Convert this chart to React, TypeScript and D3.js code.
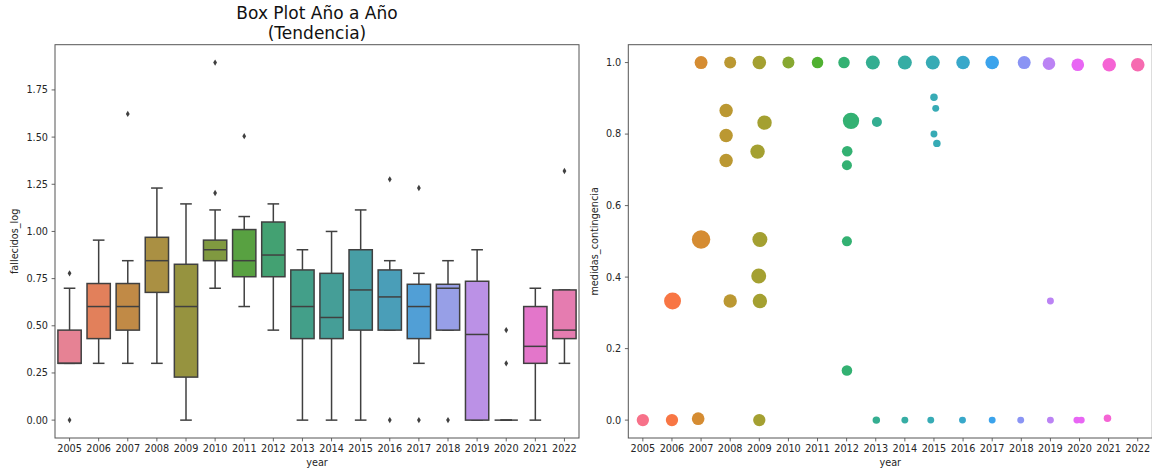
import React from 'react';
import * as d3 from 'd3';

// ---------- data ----------
const years = ['2005','2006','2007','2008','2009','2010','2011','2012','2013','2014','2015','2016','2017','2018','2019','2020','2021','2022'];

// box plot summaries of fallecidos_log per year
const boxQ1 =     [0.301, 0.432, 0.477, 0.677, 0.228, 0.845, 0.760, 0.760, 0.432, 0.432, 0.477, 0.477, 0.432, 0.477, 0.000, 0.000, 0.301, 0.432];
const boxMedian = [0.301, 0.602, 0.602, 0.845, 0.602, 0.903, 0.845, 0.875, 0.602, 0.544, 0.690, 0.653, 0.602, 0.699, 0.454, 0.000, 0.391, 0.477];
const boxQ3 =     [0.477, 0.724, 0.724, 0.969, 0.826, 0.954, 1.010, 1.050, 0.796, 0.778, 0.903, 0.796, 0.720, 0.720, 0.736, 0.000, 0.602, 0.690];
const whiskLow =  [0.301, 0.301, 0.301, 0.301, 0.000, 0.699, 0.602, 0.477, 0.000, 0.000, 0.000, 0.477, 0.301, 0.477, 0.000, 0.000, 0.000, 0.301];
const whiskHigh = [0.699, 0.954, 0.845, 1.230, 1.146, 1.114, 1.079, 1.146, 0.903, 1.000, 1.114, 0.845, 0.778, 0.845, 0.903, 0.000, 0.699, 0.690];
const fliers: number[][] = [
  [0.778, 0.0], [], [1.623], [], [], [1.204, 1.895], [1.505], [], [], [], [], [1.276, 0.0], [1.230, 0.0], [0.0], [], [0.477, 0.301], [], [1.320],
];

// scatter of medidas_contingencia per year (weight = marker size variable, jitter in category units)
const scYear = [
  '2007','2008','2009','2010','2011','2012','2013','2014','2015','2016','2017','2018','2019','2020','2021','2022',
  '2008','2008','2008','2009','2009','2012','2012','2012','2013',
  '2015','2015','2015','2015',
  '2007','2009','2012','2009',
  '2006','2008','2009','2019','2012',
  '2005','2006','2007','2009','2013','2014','2015','2016','2017','2018','2019','2020','2020','2021',
];
const scValue = [
  1.0, 1.0, 1.0, 1.0, 1.0, 1.0, 1.0, 1.0, 1.0, 1.0, 1.0, 1.0, 0.997, 0.994, 0.994, 0.994,
  0.866, 0.796, 0.726, 0.832, 0.751, 0.837, 0.752, 0.713, 0.834,
  0.903, 0.872, 0.800, 0.774,
  0.505, 0.505, 0.500, 0.403,
  0.333, 0.333, 0.333, 0.333, 0.139,
  0.0, 0.0, 0.004, 0.0, 0.0, 0.0, 0.0, 0.0, 0.0, 0.0, 0.0, 0.0, 0.0, 0.005,
];
const scWeight = [
  42, 36, 46, 36, 33, 33, 49, 49, 49, 46, 46, 42, 40, 40, 46, 46,
  45, 45, 45, 52, 52, 67, 28, 25, 25,
  14, 12, 12, 14,
  85, 56, 25, 56,
  72, 45, 52, 12, 28,
  38, 38, 40, 38, 14, 12, 12, 12, 12, 12, 12, 12, 12, 14,
];
const scJitter = [
  0.0, 0.0, 0.0, 0.0, 0.0, -0.09, -0.1, 0.0, -0.04, 0.0, 0.0, 0.1, -0.05, -0.06, 0.02, 0.0,
  -0.14, -0.14, -0.14, 0.18, -0.06, 0.15, 0.02, 0.01, 0.04,
  0.0, 0.06, 0.0, 0.1,
  0.0, 0.02, 0.01, -0.02,
  0.02, 0.0, 0.02, 0.0, 0.01,
  0.0, 0.0, -0.1, 0.0, 0.02, 0.0, -0.11, -0.02, 0.0, -0.02, 0.0, -0.09, 0.06, -0.04,
];

const leftTicks = [0, 0.25, 0.5, 0.75, 1.0, 1.25, 1.5, 1.75];
const rightTicks = [0, 0.2, 0.4, 0.6, 0.8, 1.0];

// ---------- husl palette (as seaborn) ----------
const M = [[3.2406, -1.5372, -0.4986], [-0.9689, 1.8758, 0.0415], [0.0557, -0.2040, 1.0570]];
const refU = 0.19784, refV = 0.46834, labE = 0.008856, labK = 903.3;
function maxChroma(L: number, H: number) {
  const hrad = (H * Math.PI) / 180;
  const sinH = Math.sin(hrad), cosH = Math.cos(hrad);
  const sub1 = Math.pow(L + 16, 3) / 1560896;
  const sub2 = sub1 > labE ? sub1 : L / labK;
  let result = Infinity;
  for (const [m1, m2, m3] of M) {
    const top = (0.99915 * m1 + 1.05122 * m2 + 1.1446 * m3) * sub2;
    const rb = 0.8633 * m3 - 0.17266 * m2;
    const lb = 0.12949 * m3 - 0.38848 * m1;
    const bottom = (rb * sinH + lb * cosH) * sub2;
    for (const t of [0, 1]) {
      const C = (L * (top - 1.05122 * t)) / (bottom + 0.17266 * sinH * t);
      if (C > 0 && C < result) result = C;
    }
  }
  return result;
}
function fInv(t: number) { return Math.pow(t, 3) > labE ? Math.pow(t, 3) : (116 * t - 16) / labK; }
function fromLinear(c: number) { return c <= 0.0031308 ? 12.92 * c : 1.055 * Math.pow(c, 1 / 2.4) - 0.055; }
function huslToRgb(H: number, S: number, L: number): [number, number, number] {
  const C = (maxChroma(L, H) / 100) * S;
  const hrad = (H * Math.PI) / 180;
  const U = Math.cos(hrad) * C, V = Math.sin(hrad) * C;
  const varY = fInv((L + 16) / 116);
  const varU = U / (13 * L) + refU;
  const varV = V / (13 * L) + refV;
  const Y = varY;
  const X = 0 - (9 * Y * varU) / ((varU - 4) * varV - varU * varV);
  const Z = (9 * Y - 15 * varV * Y - varV * X) / (3 * varV);
  const xyz = [X, Y, Z];
  return M.map(r => Math.min(1, Math.max(0, fromLinear(r[0] * xyz[0] + r[1] * xyz[1] + r[2] * xyz[2])))) as [number, number, number];
}
function huslPalette(n: number, h = 0.01, s = 0.9, l = 0.65) {
  const out: string[] = [];
  for (let i = 0; i < n; i++) {
    const hue = (((i / n) + h) % 1) * 359;
    const [r, g, b] = huslToRgb(hue, s * 99, l * 99);
    out.push(d3.rgb(r * 255, g * 255, b * 255).formatHex());
  }
  return out;
}

const palette = huslPalette(years.length);
const boxPalette = palette.map(c => { const h = d3.hsl(c); h.s *= 0.75; return h.formatHex(); });
const grayLum = (d3.min(boxPalette, c => d3.hsl(c).l) as number) * 0.6;
const gray = d3.rgb(grayLum * 255, grayLum * 255, grayLum * 255).formatHex();

// ---------- layout ----------
const W = 1152, H = 470;
const top = 44.7, bottom = 438;
const L = { x0: 55, x1: 579 };
const R = { x0: 628.3, x1: 1152.3 };
const FONT = 'DejaVu Sans, sans-serif';
const FS = 9.7;
const spine = '#555';
const textCol = '#262626';

export default function App() {
  const xL = d3.scaleBand<string>().domain(years).range([L.x0, L.x1]).padding(0);
  const xR = d3.scaleBand<string>().domain(years).range([R.x0, R.x1]).padding(0);
  const allLeft = [...whiskLow, ...whiskHigh, ...fliers.flat()];
  const lMin = d3.min(allLeft) as number, lMax = d3.max(allLeft) as number;
  const lPad = (lMax - lMin) * 0.05;
  const yL = d3.scaleLinear().domain([lMin - lPad, lMax + lPad]).range([bottom, top]);
  const rMin = d3.min(scValue) as number, rMax = d3.max(scValue) as number;
  const rPad = (rMax - rMin) * 0.05;
  const yR = d3.scaleLinear().domain([rMin - rPad, rMax + rPad]).range([bottom, top]);
  const rScale = d3.scaleSqrt().domain([0, 100]).range([0, 10]);

  const bw = xL.bandwidth();
  const boxW = bw * 0.8;
  const capW = boxW * 0.5;
  const fmt2 = d3.format('.2f');
  const fmt1 = d3.format('.1f');

  const xAxis = (x: d3.ScaleBand<string>) => (
    <g>
      {years.map(y => {
        const cx = (x(y) as number) + x.bandwidth() / 2;
        return (
          <g key={y}>
            <line x1={cx} x2={cx} y1={bottom} y2={bottom + 3.4} stroke={spine} strokeWidth={0.9} />
            <text x={cx} y={bottom + 14.2} textAnchor="middle" fontSize={FS} fill={textCol} fontFamily={FONT}>{y}</text>
          </g>
        );
      })}
      <text x={(x.range()[0] + x.range()[1]) / 2} y={465.5} textAnchor="middle" fontSize={FS} fill={textCol} fontFamily={FONT}>year</text>
    </g>
  );

  return (
    <svg width={W} height={H} style={{ position: 'absolute', left: 0, top: 0, background: '#fff' }} fontFamily={FONT}>
      <rect x={0} y={0} width={W} height={H} fill="#fff" />
      {/* title */}
      <text x={(L.x0 + L.x1) / 2} y={18.5} textAnchor="middle" fontSize={17} fill="#111">Box Plot Año a Año</text>
      <text x={(L.x0 + L.x1) / 2} y={39} textAnchor="middle" fontSize={17} fill="#111">(Tendencia)</text>

      {/* ---- left box plot ---- */}
      <g>
        {years.map((yr, i) => {
          const cx = (xL(yr) as number) + bw / 2;
          const c = boxPalette[i];
          return (
            <g key={yr}>
              <line x1={cx} x2={cx} y1={yL(boxQ1[i])} y2={yL(whiskLow[i])} stroke={gray} strokeWidth={1.5} />
              <line x1={cx} x2={cx} y1={yL(boxQ3[i])} y2={yL(whiskHigh[i])} stroke={gray} strokeWidth={1.5} />
              <line x1={cx - capW / 2} x2={cx + capW / 2} y1={yL(whiskLow[i])} y2={yL(whiskLow[i])} stroke={gray} strokeWidth={1.5} />
              <line x1={cx - capW / 2} x2={cx + capW / 2} y1={yL(whiskHigh[i])} y2={yL(whiskHigh[i])} stroke={gray} strokeWidth={1.5} />
              <rect x={cx - boxW / 2} y={yL(boxQ3[i])} width={boxW} height={Math.max(0, yL(boxQ1[i]) - yL(boxQ3[i]))} fill={c} stroke={gray} strokeWidth={1.5} />
              <line x1={cx - boxW / 2} x2={cx + boxW / 2} y1={yL(boxMedian[i])} y2={yL(boxMedian[i])} stroke={gray} strokeWidth={1.5} />
              {fliers[i].map((v, k) => {
                const fy = yL(v);
                return <path key={k} d={`M${cx},${fy - 3.2}L${cx + 1.9},${fy}L${cx},${fy + 3.2}L${cx - 1.9},${fy}Z`} fill={gray} />;
              })}
            </g>
          );
        })}
        <rect x={L.x0} y={top} width={L.x1 - L.x0} height={bottom - top} fill="none" stroke={spine} strokeWidth={1} />
        {leftTicks.map(t => (
          <g key={t}>
            <line x1={L.x0 - 3.4} x2={L.x0} y1={yL(t)} y2={yL(t)} stroke={spine} strokeWidth={0.9} />
            <text x={L.x0 - 7} y={yL(t) + 3.4} textAnchor="end" fontSize={FS} fill={textCol}>{fmt2(t)}</text>
          </g>
        ))}
        {xAxis(xL)}
        <text transform={`translate(17.5,${(top + bottom) / 2}) rotate(-90)`} textAnchor="middle" fontSize={FS} fill={textCol}>fallecidos_log</text>
      </g>

      {/* ---- right scatter ---- */}
      <g>
        {scValue.map((v, i) => {
          const yi = years.indexOf(scYear[i]);
          const cx = (xR(scYear[i]) as number) + xR.bandwidth() / 2 + scJitter[i] * xR.bandwidth();
          return <circle key={i} cx={cx} cy={yR(v)} r={rScale(scWeight[i])} fill={palette[yi]} />;
        })}
        <rect x={R.x0} y={top} width={R.x1 - R.x0} height={bottom - top} fill="none" stroke={spine} strokeWidth={1} />
        {rightTicks.map(t => (
          <g key={t}>
            <line x1={R.x0 - 3.4} x2={R.x0} y1={yR(t)} y2={yR(t)} stroke={spine} strokeWidth={0.9} />
            <text x={R.x0 - 7} y={yR(t) + 3.4} textAnchor="end" fontSize={FS} fill={textCol}>{fmt1(t)}</text>
          </g>
        ))}
        {xAxis(xR)}
        <text transform={`translate(597.5,${(top + bottom) / 2}) rotate(-90)`} textAnchor="middle" fontSize={FS} fill={textCol}>medidas_contingencia</text>
      </g>
    </svg>
  );
}
